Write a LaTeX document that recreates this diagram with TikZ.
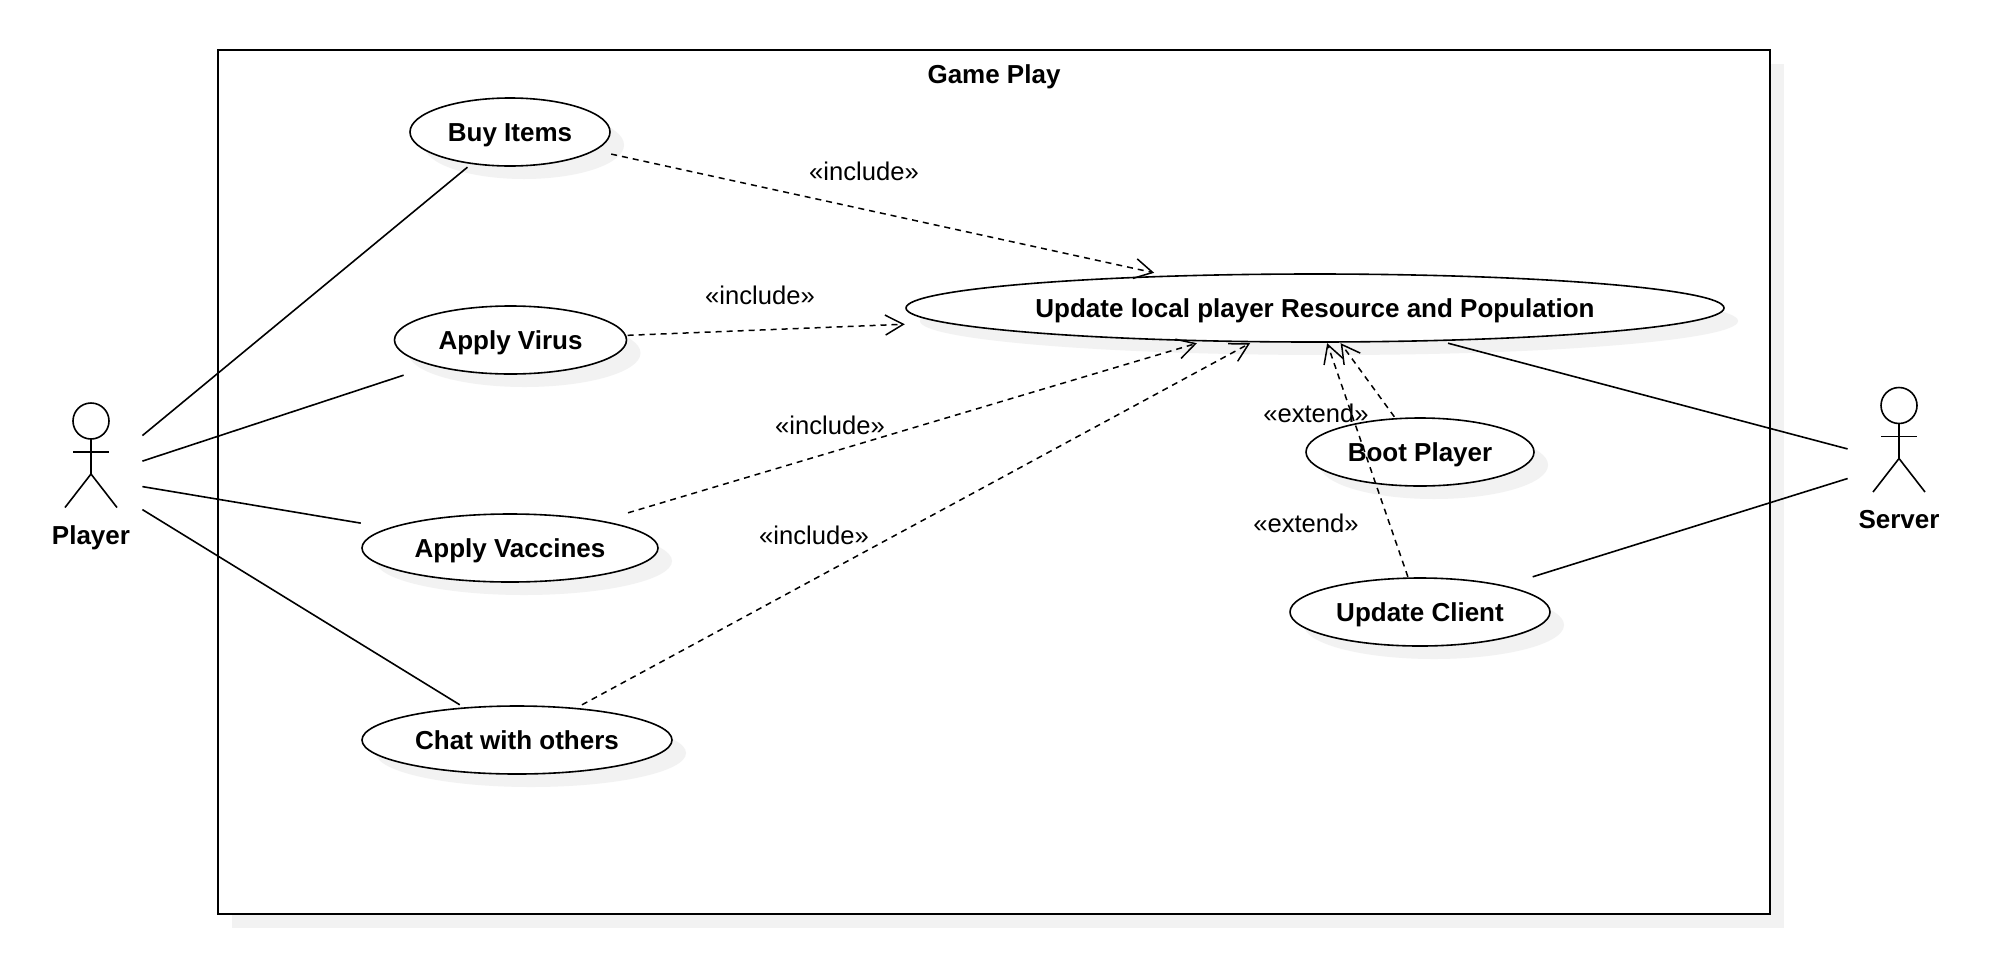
\documentclass[tikz,border=0pt]{standalone}
\usepackage{fontspec}
\setmainfont{Liberation Sans}
\usetikzlibrary{arrows.meta,shapes.geometric,shadows}

\definecolor{shadowgrey}{HTML}{F2F2F2}

\tikzset{
  softshadow/.style={drop shadow={shadow xshift=7pt, shadow yshift=-6.5pt, opacity=1, fill=shadowgrey}},
  usecase/.style={ellipse, draw, fill=white, line width=.8pt, minimum height=34pt, inner sep=0pt,
    font=\fontsize{13}{15}\selectfont\bfseries, text height=9pt, text depth=0pt, softshadow},
  casebox/.style={rectangle, minimum height=34pt, inner sep=0pt, outer sep=.6pt},
  actorbox/.style={rectangle, minimum width=51pt, minimum height=80pt, inner sep=0pt},
  actorname/.style={font=\fontsize{13}{15}\selectfont\bfseries, text height=9pt, text depth=0pt},
  relname/.style={font=\fontsize{12.8}{15}\selectfont, text height=9pt, text depth=0pt},
  assoc/.style={line width=.8pt},
  dep/.style={line width=.75pt, dash pattern=on 3pt off 2.5pt, -{Straight Barb[length=9pt,width=10pt]}},
  actorfigure/.pic={
    \draw[line width=.8pt] (0,-57) circle [radius=18];
    \draw[line width=.8pt] (0,-39) -- (0,-4);
    \draw[line width=.8pt] (-18,-26) -- (18,-26);
    \draw[line width=.8pt] (-26,29.5) -- (0,-4) -- (26,29.5);
  }
}

% name, position, width, text
\newcommand{\usecasenode}[4]{
  \node[usecase, minimum width=#3] (#1shape) at #2 {#4};
  \node[casebox, minimum width=#3] (#1) at #2 {};
}

\begin{document}
\begin{tikzpicture}[x=.5pt,y=-.5pt]
\useasboundingbox (0,0) rectangle (2006,964);

\node[rectangle, draw, fill=white, line width=1pt, minimum width=776pt, minimum height=432pt,
  drop shadow={shadow xshift=7pt, shadow yshift=-7pt, opacity=1, fill=shadowgrey}]
  (frame) at (994,482) {};
\node[actorname] (title) at (994,74) {Game Play};

% use cases
\usecasenode{buy}{(510,132)}{100pt}{Buy Items}
\usecasenode{virus}{(510.5,340)}{116pt}{Apply Virus}
\usecasenode{vaccines}{(510,548)}{148pt}{Apply Vaccines}
\usecasenode{chat}{(517,740)}{155pt}{Chat with others}
\usecasenode{update}{(1315,308)}{409pt}{Update local player Resource and Population}
\usecasenode{boot}{(1420,452)}{114pt}{Boot Player}
\usecasenode{client}{(1420,612)}{130pt}{Update Client}

% actors
\node[actorbox] (player) at (91,478) {};
\pic at (player) {actorfigure};
\node[actorname] (playername) at (91,535) {Player};

\node[actorbox] (server) at (1899,462.5) {};
\pic at (server) {actorfigure};
\node[actorname] (servername) at (1899,519.5) {Server};

\draw[assoc] (player) -- (buy);
\draw[assoc] (player) -- (virus);
\draw[assoc] (player) -- (vaccines);
\draw[assoc] (player) -- (chat);
\draw[assoc] (server) -- (update);
\draw[assoc] (server) -- (client);

\draw[dep] (buy) -- (update);
\draw[dep] (virus) -- (update);
\draw[dep] (vaccines) -- (update);
\draw[dep] (chat) -- (update);
\draw[dep] (boot) -- (update);
\draw[dep] (client) -- (update);

\node[relname] (incbuy) at (864,171) {«include»};
\node[relname] (incvirus) at (760,295) {«include»};
\node[relname] (incvaccines) at (830,425) {«include»};
\node[relname] (incchat) at (814,535) {«include»};
\node[relname] (extboot) at (1316,413) {«extend»};
\node[relname] (extclient) at (1306,523) {«extend»};
\end{tikzpicture}
\end{document}
